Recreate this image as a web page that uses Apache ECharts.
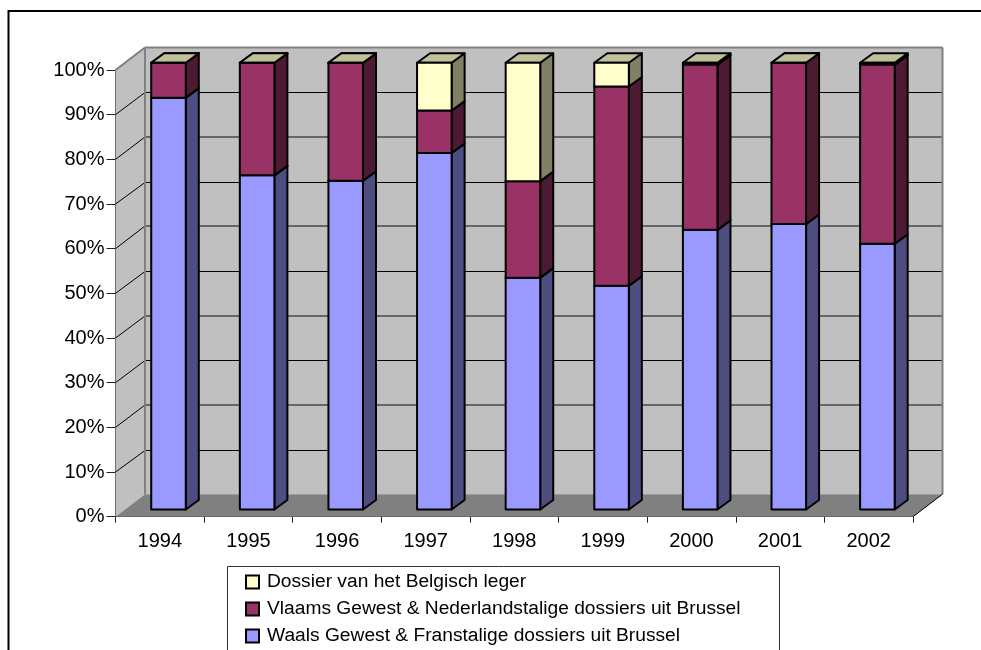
<!DOCTYPE html>
<html lang="nl">
<head>
    <meta charset="UTF-8">
    <title>Dossiers per jaar</title>
    <script src="https://cdn.jsdelivr.net/npm/echarts@6/dist/echarts.min.js"></script>
    <style>
        body, html { margin: 0; padding: 0; background: #fff; overflow: hidden; }
        #main { width: 981px; height: 650px; }
    </style>
</head>
<body>
    <div id="main"></div>
    <script>
        const years = ['1994', '1995', '1996', '1997', '1998', '1999', '2000', '2001', '2002'];
        const waals = [92.2, 74.8, 73.6, 79.8, 51.9, 50.1, 62.6, 63.9, 59.5];
        const vlaams = [7.8, 25.2, 26.4, 9.5, 21.6, 44.6, 37.0, 36.1, 40.1];
        const leger = [0, 0, 0, 10.7, 26.5, 5.3, 0.4, 0, 0.4];
        const yTicks = [0, 10, 20, 30, 40, 50, 60, 70, 80, 90, 100];

        const nameLeger = 'Dossier van het Belgisch leger';
        const nameVlaams = 'Vlaams Gewest & Nederlandstalige dossiers uit Brussel';
        const nameWaals = 'Waals Gewest & Franstalige dossiers uit Brussel';

        // 3D look: depth of the walls and of the bars, in pixels
        const wallDx = 29.5, wallDy = -22.5;
        const barDx = 13, barDy = -9.5;
        const barShiftX = 8.7, barShiftY = -7.2;
        const barRatio = 0.39;

        function px(v) { return Math.round(v) + 0.5; }

        function poly(points, fill, stroke, width) {
            return {
                type: 'polygon',
                shape: { points: points },
                style: { fill: fill, stroke: stroke || null, lineWidth: width || 0, lineJoin: 'round' },
                silent: true
            };
        }

        function line(x1, y1, x2, y2, color, width) {
            return {
                type: 'line',
                shape: { x1: x1, y1: y1, x2: x2, y2: y2 },
                style: { stroke: color, lineWidth: width },
                silent: true
            };
        }

        // back wall, side wall, floor and the grid lines on them
        function renderWalls(params, api) {
            const g = params.coordSys;
            const x0 = g.x, x1 = g.x + g.width, y0 = g.y, y1 = g.y + g.height;
            const kids = [
                poly([[x0 + wallDx, y0 + wallDy], [x1 + wallDx, y0 + wallDy], [x1 + wallDx, y1 + wallDy], [x0 + wallDx, y1 + wallDy]], '#c0c0c0'),
                poly([[x0, y0], [x0 + wallDx, y0 + wallDy], [x0 + wallDx, y1 + wallDy], [x0, y1]], '#c0c0c0'),
                poly([[x0, y1], [x0 + wallDx, y1 + wallDy], [x1 + wallDx, y1 + wallDy], [x1, y1]], '#808080')
            ];
            yTicks.slice(1, -1).forEach(function (t, i) {
                const y = api.coord([0, t])[1];
                const even = i % 2 === 1;
                const by = even ? Math.round(y + wallDy) : px(y + wallDy);
                kids.push(line(x0, y, x0 + wallDx, by, '#000', 1));
                kids.push(line(x0 + wallDx, by, x1 + wallDx, by, even ? '#666' : '#000', even ? 2 : 1));
            });
            kids.push(line(x0, y0, x0 + wallDx, y0 + wallDy, '#808080', 2));
            kids.push(line(x0 + wallDx, y0 + wallDy, x1 + wallDx, y0 + wallDy, '#808080', 2));
            kids.push(line(x1 + wallDx, y0 + wallDy, x1 + wallDx, y1 + wallDy, '#808080', 2));
            kids.push(line(x0 + wallDx, y0 + wallDy, x0 + wallDx, y1 + wallDy, '#808080', 2));
            kids.push(line(x1, y1, x1 + wallDx, y1 + wallDy, '#000', 1));
            return { type: 'group', children: kids };
        }

        function renderBar(front, side, top) {
            return function (params, api) {
                const low = api.coord([api.value(0), api.value(1)]);
                const high = api.coord([api.value(0), api.value(2)]);
                const w = api.size([1, 0])[0] * barRatio;
                const l = low[0] - w / 2 + barShiftX, r = l + w;
                const b = low[1] + barShiftY, t = high[1] + barShiftY;
                return {
                    type: 'group',
                    children: [
                        poly([[r, b], [r + barDx, b + barDy], [r + barDx, t + barDy], [r, t]], side, '#000', 2),
                        poly([[l, t], [l + barDx, t + barDy], [r + barDx, t + barDy], [r, t]], top, '#000', 2),
                        poly([[l, b], [r, b], [r, t], [l, t]], front, '#000', 2)
                    ]
                };
            };
        }

        const waalsData = years.map((y, i) => [i, 0, waals[i]]);
        const vlaamsData = years.map((y, i) => [i, waals[i], waals[i] + vlaams[i]]);
        const legerData = years.map((y, i) => [i, waals[i] + vlaams[i], waals[i] + vlaams[i] + leger[i]]);

        function barSeries(name, data, front, side, top) {
            return {
                name: name,
                type: 'custom',
                data: data,
                encode: { x: 0, y: [1, 2] },
                itemStyle: { color: front },
                renderItem: renderBar(front, side, top),
                z: 5
            };
        }

        const chart = echarts.init(document.getElementById('main'), null, { renderer: 'canvas' });
        chart.setOption({
            animation: false,
            backgroundColor: '#fff',
            textStyle: { fontFamily: '"Liberation Sans", Arial, sans-serif', color: '#000' },
            grid: { left: 115.5, top: 70, width: 797.5, height: 446.7 },
            xAxis: {
                type: 'category',
                data: years,
                boundaryGap: true,
                axisLine: { lineStyle: { color: '#222', width: 1 } },
                axisTick: { show: true, length: 6, alignWithLabel: false, lineStyle: { color: '#222' } },
                axisLabel: { color: '#000', fontSize: 20, margin: 15, fontFamily: '"Liberation Sans"' },
                splitLine: { show: false }
            },
            yAxis: {
                type: 'value',
                min: 0,
                max: 100,
                interval: 10,
                axisLine: { show: true, lineStyle: { color: '#222', width: 1 } },
                axisTick: { show: true, length: 9, lineStyle: { color: '#222' } },
                axisLabel: { color: '#000', fontSize: 20, margin: 11, formatter: '{value}%', fontFamily: '"Liberation Sans"' },
                splitLine: { show: false }
            },
            legend: {
                data: [nameLeger, nameVlaams, nameWaals],
                orient: 'vertical',
                left: 240,
                top: 569,
                padding: [2, 5],
                itemWidth: 13,
                itemHeight: 13,
                itemGap: 5,
                icon: 'rect',
                selectedMode: false,
                itemStyle: { borderColor: '#000', borderWidth: 2 },
                textStyle: { fontSize: 19.2, color: '#000', lineHeight: 22, padding: [0, 0, 0, 3], fontFamily: '"Liberation Sans"' }
            },
            graphic: [
                { type: 'rect', z: -1, silent: true, shape: { x: 8.5, y: 11, width: 1100, height: 800 }, style: { fill: '#fff', stroke: '#000', lineWidth: 2 } },
                { type: 'rect', z: 0, silent: true, shape: { x: 227.5, y: 566.5, width: 552, height: 120 }, style: { fill: '#fff', stroke: '#333', lineWidth: 1 } }
            ],
            series: [
                { type: 'custom', name: 'wanden', data: [[0, 0]], encode: { x: 0, y: 1 }, renderItem: renderWalls, z: 1, silent: true },
                barSeries(nameWaals, waalsData, '#9999ff', '#4d4d80', '#c0c09a'),
                barSeries(nameVlaams, vlaamsData, '#993366', '#4d1a33', '#c0c09a'),
                barSeries(nameLeger, legerData, '#ffffcc', '#808066', '#c0c09a')
            ]
        });
    </script>
</body>
</html>
